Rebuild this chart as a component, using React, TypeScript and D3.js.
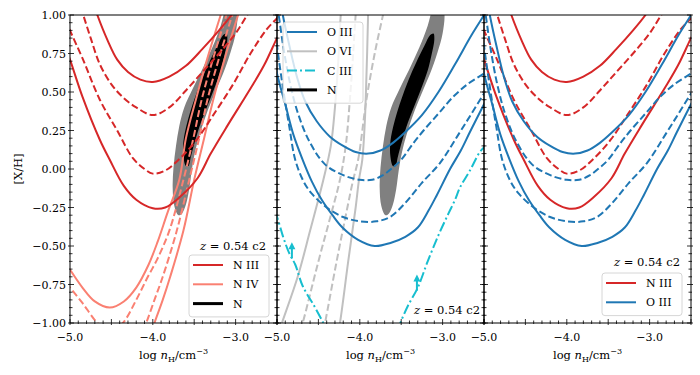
import React from 'react'
import * as d3 from 'd3'

// curves: [log nH, [X/H]]
const nIIIHiSolid = [[-4.72,1.08],[-4.67,1.0],[-4.55,0.84],[-4.43,0.71],[-4.3,0.63],[-4.15,0.58],[-4.0,0.565],[-3.8,0.6],[-3.6,0.67],[-3.4,0.78],[-3.2,0.9],[-3.05,1.0],[-2.98,1.06]]
const nIIIHiDash = [[-4.87,1.05],[-4.84,1.0],[-4.75,0.85],[-4.64,0.68],[-4.5,0.55],[-4.35,0.46],[-4.2,0.4],[-4.0,0.35],[-3.8,0.4],[-3.6,0.51],[-3.4,0.63],[-3.2,0.75],[-3.0,0.88],[-2.86,1.0],[-2.8,1.05]]
const nIIILoDash = [[-5.05,0.97],[-5.0,0.9],[-4.85,0.72],[-4.64,0.45],[-4.43,0.25],[-4.24,0.07],[-4.1,0.0],[-4.0,-0.03],[-3.85,-0.01],[-3.67,0.07],[-3.47,0.19],[-3.27,0.35],[-3.03,0.55],[-2.82,0.75],[-2.62,0.91],[-2.5,0.98],[-2.45,1.02]]
const nIIILoSolid = [[-5.05,0.78],[-5.0,0.71],[-4.85,0.47],[-4.64,0.19],[-4.52,0.06],[-4.35,-0.11],[-4.2,-0.2],[-4.0,-0.255],[-3.85,-0.25],[-3.67,-0.18],[-3.46,-0.06],[-3.3,0.1],[-3.1,0.28],[-2.95,0.41],[-2.8,0.54],[-2.65,0.68],[-2.5,0.85],[-2.45,0.9]]

const nIVHiSolid = [[-5.05,-0.62],[-5.0,-0.655],[-4.85,-0.77],[-4.7,-0.86],[-4.52,-0.9],[-4.35,-0.86],[-4.2,-0.77],[-4.05,-0.62],[-3.94,-0.47],[-3.82,-0.28],[-3.68,-0.07],[-3.6,0.2],[-3.48,0.45],[-3.34,0.72],[-3.18,1.0],[-3.15,1.05]]
const nIVHiDash = [[-5.05,-0.74],[-5.0,-0.77],[-4.85,-0.87],[-4.67,-1.0],[-4.52,-1.07],[-4.36,-1.0],[-4.2,-0.85],[-4.06,-0.7],[-3.95,-0.59],[-3.8,-0.4],[-3.63,-0.07],[-3.51,0.2],[-3.41,0.45],[-3.27,0.72],[-3.11,1.0],[-3.08,1.05]]
const nIVLoDash = [[-4.12,-1.05],[-4.08,-1.0],[-3.98,-0.85],[-3.88,-0.7],[-3.71,-0.4],[-3.56,-0.07],[-3.44,0.2],[-3.34,0.45],[-3.2,0.72],[-3.04,1.0],[-3.01,1.05]]
const nIVLoSolid = [[-4.01,-1.05],[-3.98,-1.0],[-3.88,-0.85],[-3.79,-0.7],[-3.63,-0.4],[-3.5,-0.07],[-3.38,0.2],[-3.27,0.45],[-3.13,0.72],[-2.97,1.0],[-2.94,1.05]]

const oIIIHiSolid = [[-4.95,1.06],[-4.93,1.0],[-4.85,0.8],[-4.76,0.6],[-4.66,0.44],[-4.52,0.31],[-4.36,0.21],[-4.2,0.15],[-4.05,0.11],[-3.9,0.1],[-3.75,0.12],[-3.6,0.17],[-3.45,0.24],[-3.25,0.35],[-3.05,0.5],[-2.85,0.68],[-2.65,0.87],[-2.5,1.0],[-2.45,1.05]]
const oIIIHiDash = [[-5.0,1.06],[-4.98,1.0],[-4.92,0.78],[-4.84,0.55],[-4.74,0.35],[-4.6,0.17],[-4.42,0.03],[-4.2,-0.04],[-4.0,-0.07],[-3.85,-0.07],[-3.72,-0.04],[-3.6,0.01],[-3.5,0.06],[-3.35,0.17],[-3.23,0.25],[-3.05,0.36],[-2.87,0.47],[-2.7,0.55],[-2.5,0.62],[-2.45,0.64]]
const oIIILoDash = [[-5.03,0.95],[-5.0,0.8],[-4.92,0.5],[-4.85,0.27],[-4.78,0.06],[-4.68,-0.08],[-4.58,-0.16],[-4.4,-0.25],[-4.21,-0.31],[-4.0,-0.34],[-3.8,-0.34],[-3.63,-0.31],[-3.45,-0.22],[-3.25,-0.09],[-3.03,0.04],[-2.79,0.24],[-2.65,0.36],[-2.5,0.49],[-2.45,0.53]]
const oIIILoSolid = [[-5.03,0.72],[-5.0,0.62],[-4.9,0.42],[-4.8,0.22],[-4.69,0.06],[-4.58,-0.08],[-4.46,-0.2],[-4.33,-0.3],[-4.21,-0.38],[-4.02,-0.46],[-3.82,-0.5],[-3.63,-0.48],[-3.45,-0.44],[-3.3,-0.38],[-3.17,-0.27],[-3.07,-0.17],[-2.91,0.0],[-2.78,0.12],[-2.67,0.24],[-2.5,0.42],[-2.45,0.47]]

const oVIOuterLeft = [[-4.97,-1.05],[-4.94,-1.0],[-4.75,-0.7],[-4.6,-0.4],[-4.44,-0.07],[-4.35,0.15],[-4.3,0.4],[-4.26,0.7],[-4.23,1.0],[-4.22,1.05]]
const oVIInnerLeft = [[-4.72,-1.05],[-4.69,-1.0],[-4.5,-0.6],[-4.35,-0.3],[-4.24,-0.07],[-4.17,0.15],[-4.12,0.45],[-4.08,0.75],[-4.05,1.0],[-4.04,1.05]]
const oVIInnerRight = [[-4.44,-1.05],[-4.42,-1.0],[-4.28,-0.6],[-4.15,-0.25],[-4.08,-0.07],[-4.02,0.06],[-3.92,0.45],[-3.82,0.75],[-3.72,1.0],[-3.7,1.05]]
const oVIOuterRight = [[-4.26,-1.05],[-4.24,-1.0],[-4.14,-0.6],[-4.05,-0.25],[-4.01,-0.07],[-3.97,0.06],[-3.94,0.3],[-3.92,0.6],[-3.9,1.0],[-3.9,1.05]]

const cIIILeft = [[-5.03,-0.27],[-5.0,-0.31],[-4.92,-0.45],[-4.85,-0.55],[-4.78,-0.62],[-4.69,-0.76],[-4.55,-0.89],[-4.44,-1.0],[-4.4,-1.04]]
const cIIIRight = [[-3.54,-1.05],[-3.51,-1.0],[-3.42,-0.89],[-3.3,-0.77],[-3.18,-0.6],[-3.05,-0.43],[-2.93,-0.29],[-2.85,-0.2],[-2.79,-0.12],[-2.67,-0.01],[-2.55,0.11],[-2.48,0.15]]
const cIIIArrows = [[-4.82,-0.58],[-3.31,-0.79]]

const nContour2s = [[-3.69,-0.3],[-3.74,-0.24],[-3.76,-0.12],[-3.75,0.01],[-3.72,0.15],[-3.68,0.28],[-3.62,0.4],[-3.52,0.52],[-3.4,0.65],[-3.28,0.79],[-3.18,0.93],[-3.12,1.04],[-3.04,1.1],[-2.98,1.02],[-3.0,0.88],[-3.06,0.76],[-3.13,0.65],[-3.23,0.52],[-3.33,0.39],[-3.42,0.25],[-3.49,0.11],[-3.53,-0.01],[-3.56,-0.13],[-3.6,-0.23],[-3.65,-0.29]]
const nContour1s = [[-3.6,0.02],[-3.63,0.08],[-3.63,0.18],[-3.58,0.31],[-3.5,0.45],[-3.41,0.58],[-3.32,0.69],[-3.22,0.8],[-3.15,0.87],[-3.11,0.88],[-3.1,0.84],[-3.13,0.75],[-3.18,0.64],[-3.26,0.52],[-3.34,0.41],[-3.42,0.3],[-3.49,0.18],[-3.54,0.08],[-3.57,0.02]]

const xLabelTicks = [-5, -4, -3]
const yLabelTicks = [1, 0.75, 0.5, 0.25, 0, -0.25, -0.5, -0.75, -1]
const redshiftTag = '0.54 c2'

const RED = '#d62728'
const BLUE = '#1f77b4'
const SALMON = '#fa8072'
const SILVER = '#c0c0c0'
const CYAN = '#17becf'
const DASH = '7,3.2'
const DASHDOT = '10,3,2,3'
const FONT = 'DejaVu Serif'

const width = 700
const height = 375
const plotTop = 15
const plotBottom = 323
const panelW = 207
const panelLefts = [70, 277, 484]

const fourLines = (pts, color, w = 2) => [
  {pts: pts[0], color, dash: null, w},
  {pts: pts[1], color, dash: DASH, w},
  {pts: pts[2], color, dash: DASH, w},
  {pts: pts[3], color, dash: null, w}
]
const nIIILines = fourLines([nIIIHiSolid, nIIIHiDash, nIIILoDash, nIIILoSolid], RED)
const nIVLines = fourLines([nIVHiSolid, nIVHiDash, nIVLoDash, nIVLoSolid], SALMON)
const oIIILines = fourLines([oIIIHiSolid, oIIIHiDash, oIIILoDash, oIIILoSolid], BLUE)
const oVILines = fourLines([oVIOuterLeft, oVIInnerLeft, oVIInnerRight, oVIOuterRight], SILVER)
const cIIILines = [cIIILeft, cIIIRight].map(pts => ({pts, color: CYAN, dash: DASHDOT, w: 2}))

const panels = [
  {
    contour: true,
    lines: [...nIVLines, ...nIIILines],
    arrows: false,
    legend: [
      {label: 'N III', color: RED, dash: null, w: 2},
      {label: 'N IV', color: SALMON, dash: null, w: 2},
      {label: 'N', color: '#000', dash: null, w: 3}
    ],
    legendBox: {x: 189 - 70, y: 255},
    tag: {dx: -11, y: 250}
  },
  {
    contour: true,
    lines: [...oVILines, ...oIIILines, ...cIIILines],
    arrows: true,
    legend: [
      {label: 'O III', color: BLUE, dash: null, w: 2},
      {label: 'O VI', color: SILVER, dash: null, w: 2},
      {label: 'C III', color: CYAN, dash: DASHDOT, w: 2},
      {label: 'N', color: '#000', dash: null, w: 3}
    ],
    legendBox: {x: 6, y: 22},
    tag: {dx: -4, y: 314}
  },
  {
    contour: false,
    lines: [...nIIILines, ...oIIILines],
    arrows: false,
    legend: [
      {label: 'N III', color: RED, dash: null, w: 2},
      {label: 'O III', color: BLUE, dash: null, w: 2}
    ],
    legendBox: {x: 602 - 484, y: 273},
    tag: {dx: -11, y: 266}
  }
]

const fmtX = v => (v < 0 ? '\u2212' : '') + Math.abs(v).toFixed(1)
const fmtY = v => (v < 0 ? '\u2212' : '') + Math.abs(v).toFixed(2)

const Panel = ({idx, cfg}) => {
  const left = panelLefts[idx]
  const right = left + panelW
  const x = d3.scaleLinear().domain([-5, -2.5]).range([left, right])
  const y = d3.scaleLinear().domain([-1, 1]).range([plotBottom, plotTop])
  const line = d3.line().x(d => x(d[0])).y(d => y(d[1])).curve(d3.curveCatmullRom.alpha(0.5))
  const blob = d3.line().x(d => x(d[0])).y(d => y(d[1])).curve(d3.curveCatmullRomClosed.alpha(0.5))
  const clipId = 'clip-' + idx

  const xMajor = d3.range(-5, -2.5 + 1e-9, 0.5)
  const xMinor = d3.range(-5, -2.5 + 1e-9, 0.1).filter(v => Math.abs(v * 2 - Math.round(v * 2)) > 1e-6)
  const yMajor = d3.range(-1, 1 + 1e-9, 0.25)
  const yMinor = d3.range(-1, 1 + 1e-9, 0.05).filter(v => Math.abs(v * 4 - Math.round(v * 4)) > 1e-6)

  const lb = cfg.legendBox
  const lbH = cfg.legend.length * 19.3 + 4

  return (
    <g>
      <defs>
        <clipPath id={clipId}>
          <rect x={left} y={plotTop} width={panelW} height={plotBottom - plotTop} />
        </clipPath>
      </defs>
      <g clipPath={`url(#${clipId})`}>
        {cfg.contour && <path d={blob(nContour2s)} fill="#808080" />}
        {cfg.contour && <path d={blob(nContour1s)} fill="#000" />}
        {cfg.lines.map((s, i) => (
          <path key={i} d={line(s.pts)} fill="none" stroke={s.color} strokeWidth={s.w}
            strokeDasharray={s.dash || undefined} />
        ))}
        {cfg.arrows && cIIIArrows.map((a, i) => {
          const ax = x(a[0])
          const y0 = y(a[1])
          const y1 = y(a[1] + 0.105)
          return (
            <g key={i}>
              <line x1={ax} x2={ax} y1={y0} y2={y1 + 5} stroke={CYAN} strokeWidth={2} />
              <path d={`M${ax - 3.5},${y1 + 7}L${ax},${y1}L${ax + 3.5},${y1 + 7}Z`} fill={CYAN} />
            </g>
          )
        })}
      </g>

      {/* bottom, left and right ticks, in-out */}
      <g stroke="#000" strokeWidth={0.8}>
        {xMajor.map(v => <line key={'xb' + v} x1={x(v)} x2={x(v)} y1={plotBottom + 2} y2={plotBottom - 4} />)}
        {xMinor.map(v => <line key={'xbm' + v} x1={x(v)} x2={x(v)} y1={plotBottom + 1} y2={plotBottom - 2.5} />)}
        {yMajor.map(v => <line key={'yl' + v} x1={left - 2} x2={left + 4} y1={y(v)} y2={y(v)} />)}
        {yMinor.map(v => <line key={'ylm' + v} x1={left - 1} x2={left + 2.5} y1={y(v)} y2={y(v)} />)}
        {yMajor.map(v => <line key={'yr' + v} x1={right + 2} x2={right - 4} y1={y(v)} y2={y(v)} />)}
        {yMinor.map(v => <line key={'yrm' + v} x1={right + 1} x2={right - 2.5} y1={y(v)} y2={y(v)} />)}
      </g>
      <rect x={left} y={plotTop} width={panelW} height={plotBottom - plotTop} fill="none" stroke="#000" strokeWidth={1} />

      {xLabelTicks.map(v => (
        <text key={'xl' + v} x={x(v)} y={341} textAnchor="middle" fontSize={11}>{fmtX(v)}</text>
      ))}

      <text x={(left + right) / 2} y={359} textAnchor="middle" fontSize={11.5}>
        log <tspan fontStyle="italic">n</tspan>
        <tspan fontSize={8} dy={3}>H</tspan>
        <tspan dy={-3}>/cm</tspan>
        <tspan fontSize={8} dy={-5}>{'\u22123'}</tspan>
      </text>

      <rect x={left + lb.x} y={lb.y} width={80} height={lbH} rx={3}
        fill="#fff" fillOpacity={0.8} stroke="#cccccc" strokeWidth={0.8} />
      {cfg.legend.map((e, i) => {
        const ly = lb.y + 10 + i * 19.3
        return (
          <g key={e.label}>
            <line x1={left + lb.x + 4} x2={left + lb.x + 34} y1={ly} y2={ly} stroke={e.color}
              strokeWidth={e.w} strokeDasharray={e.dash || undefined} />
            <text x={left + lb.x + 44} y={ly + 4} fontSize={11}>{e.label}</text>
          </g>
        )
      })}

      <text x={right + cfg.tag.dx} y={cfg.tag.y} textAnchor="end" fontSize={11.5}>
        <tspan fontStyle="italic">z</tspan> = {redshiftTag}
      </text>
    </g>
  )
}

export default function App() {
  const y = d3.scaleLinear().domain([-1, 1]).range([plotBottom, plotTop])
  return (
    <svg width={width} height={height} fontFamily={FONT}
      style={{position: 'absolute', left: 0, top: 0, background: '#fff'}}>
      {panels.map((p, i) => <Panel key={i} idx={i} cfg={p} />)}
      {yLabelTicks.map(v => (
        <text key={v} x={66} y={y(v) + 4} textAnchor="end" fontSize={11}>{fmtY(v)}</text>
      ))}
      <text transform={`translate(22,${(plotTop + plotBottom) / 2}) rotate(-90)`} textAnchor="middle" fontSize={11.5}>
        [X/H]
      </text>
    </svg>
  )
}
